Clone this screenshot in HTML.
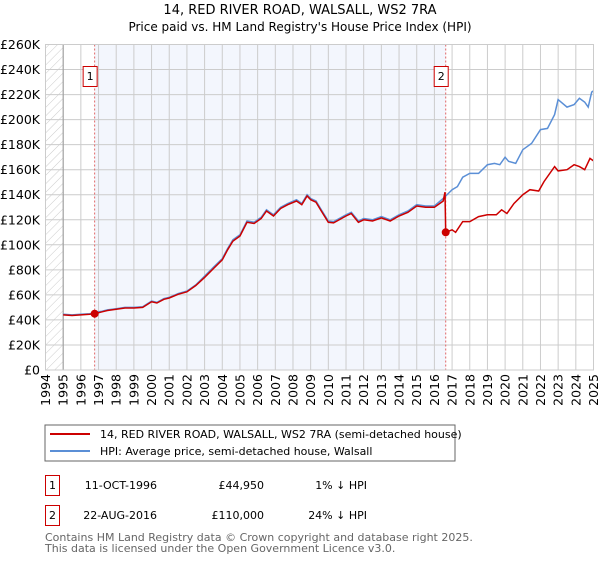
<!DOCTYPE html>
<html><head><meta charset="utf-8"><style>
body{margin:0;background:#fff;width:600px;height:560px;overflow:hidden;font-family:"DejaVu Sans","Liberation Sans",sans-serif}
svg text{font-family:"DejaVu Sans","Liberation Sans",sans-serif}
</style></head><body>
<svg id="c" width="600" height="560" xmlns="http://www.w3.org/2000/svg">
<defs><pattern id="hatch" width="6" height="6" patternUnits="userSpaceOnUse" patternTransform="rotate(45)"><line x1="0" y1="0" x2="0" y2="6" stroke="#ccc" stroke-width="1"/></pattern></defs>
<text x="300" y="14" text-anchor="middle" font-size="13">14, RED RIVER ROAD, WALSALL, WS2 7RA</text>
<text x="300" y="31" text-anchor="middle" font-size="12">Price paid vs. HM Land Registry's House Price Index (HPI)</text>
<g id="plot"></g>
<rect x="45" y="425" width="410" height="36" fill="#fff" stroke="#666"/>
<line x1="50" y1="434" x2="90" y2="434" stroke="#cc0000" stroke-width="2"/>
<text x="100" y="438" font-size="11">14, RED RIVER ROAD, WALSALL, WS2 7RA (semi-detached house)</text>
<line x1="50" y1="451" x2="90" y2="451" stroke="#5b8fd6" stroke-width="2"/>
<text x="100" y="455" font-size="11">HPI: Average price, semi-detached house, Walsall</text>
<rect x="45.5" y="475.5" width="14" height="20" fill="none" stroke="#cc0000"/>
<text x="52.5" y="489" font-size="11" text-anchor="middle">1</text>
<text x="157" y="489" font-size="11" text-anchor="end">11-OCT-1996</text>
<text x="264" y="489" font-size="11" text-anchor="end">£44,950</text>
<text x="367" y="489" font-size="11" text-anchor="end">1% ↓ HPI</text>
<rect x="45.5" y="505.5" width="14" height="20" fill="none" stroke="#cc0000"/>
<text x="52.5" y="519" font-size="11" text-anchor="middle">2</text>
<text x="157" y="519" font-size="11" text-anchor="end">22-AUG-2016</text>
<text x="264" y="519" font-size="11" text-anchor="end">£110,000</text>
<text x="367" y="519" font-size="11" text-anchor="end">24% ↓ HPI</text>
<text x="45" y="541" font-size="11" fill="#666">Contains HM Land Registry data © Crown copyright and database right 2025.</text>
<text x="45" y="552" font-size="11" fill="#666">This data is licensed under the Open Government Licence v3.0.</text>
</svg>
<script>
const hpiYears=[1995,1995.5,1996,1996.5,1996.8,1997.2,1997.5,1998,1998.5,1999,1999.5,2000,2000.3,2000.7,2001,2001.5,2002,2002.5,2003,2003.5,2004,2004.3,2004.6,2005,2005.4,2005.8,2006.2,2006.5,2006.9,2007.3,2007.7,2008.2,2008.5,2008.8,2009,2009.3,2009.6,2010,2010.3,2011,2011.3,2011.7,2012,2012.5,2013,2013.5,2014,2014.5,2015,2015.5,2016,2016.5,2017,2017.3,2017.6,2018,2018.5,2019,2019.4,2019.7,2020,2020.2,2020.6,2021,2021.5,2022,2022.4,2022.8,2023,2023.5,2023.9,2024.2,2024.5,2024.7,2024.9,2025];
const hpiValues=[44.5,44,44.5,45,46,47,48,49,50,50,50.5,55,54,57,58,61,63,68,75,82,89,97,104,108,119,118,122,128,124,130,133,136,133,140,137,135,128,119,118.5,124,126,119,121,120,122.5,120,124,127,132,131,131,137,144,146.5,154,157,157,164,165,164,170,166.6,165,176,181,192,193,204,216,210,212,217,214,210,222,223,220];
const propYears=[1995,1995.5,1996,1996.5,1996.78,1997.2,1997.5,1998,1998.5,1999,1999.5,2000,2000.3,2000.7,2001,2001.5,2002,2002.5,2003,2003.5,2004,2004.3,2004.6,2005,2005.4,2005.8,2006.2,2006.5,2006.9,2007.3,2007.7,2008.2,2008.5,2008.8,2009,2009.3,2009.6,2010,2010.3,2011,2011.3,2011.7,2012,2012.5,2013,2013.5,2014,2014.5,2015,2015.5,2016,2016.5,2016.6,2016.64,2017,2017.2,2017.6,2018,2018.5,2019,2019.5,2019.8,2020.1,2020.5,2021,2021.4,2021.9,2022.2,2022.8,2023,2023.5,2023.9,2024.2,2024.5,2024.8,2025];
const propValues=[44,43.5,44,44.5,44.95,46.5,47.5,48.5,49.5,49.5,50,54.5,53.5,56.5,57.5,60.5,62.5,67.5,74,81,88,96,103,107,118,117,121,127,123,129,132,135,132,139,136,134,127,118,117.5,123,125,118,120,119,121.5,119,123,126,131,130,130,135,142,110,112,110,118.5,118.5,122.5,124,124,128,125,133,140,144,143,150.5,162.5,159,160,164,162.5,160,169,167];
const saleYears=[1996.78,2016.64];
const saleValues=[44.95,110];
const yTicks=[0,20,40,60,80,100,120,140,160,180,200,220,240,260];
const xTicks=[1994,1995,1996,1997,1998,1999,2000,2001,2002,2003,2004,2005,2006,2007,2008,2009,2010,2011,2012,2013,2014,2015,2016,2017,2018,2019,2020,2021,2022,2023,2024,2025];
const X0=45.5,X1=593.5,Y0=370,Y1=44.5;
const xs=y=>X0+(y-1994)/(2025-1994)*(X1-X0);
const ys=v=>Y0-v/260*(Y0-Y1);
const NS="http://www.w3.org/2000/svg";
const g=document.getElementById('plot');
function mk(t,a){const e=document.createElementNS(NS,t);for(const k in a)e.setAttribute(k,a[k]);g.appendChild(e);return e;}
let e=mk('rect',{x:X0,y:Y1,width:X1-X0,height:Y0-Y1,fill:'#fff'});


e=mk('rect',{x:xs(saleYears[0]),y:Y1,width:xs(saleYears[1])-xs(saleYears[0]),height:Y0-Y1,fill:'#f3f6fd'});


e=mk('rect',{x:X0,y:Y1,width:xs(1995)-X0,height:Y0-Y1,fill:'url(#hatch)'});


yTicks.forEach(t=>{
 e=mk('line',{x1:X0,x2:X1,y1:ys(t),y2:ys(t),stroke:'#ccc'});
 
 
 e=mk('text',{x:40,y:ys(t)+4.5,'text-anchor':'end','font-size':'12.5'});e.textContent=t?'£'+t+'K':'£0';
 
 
});
xTicks.forEach(t=>{
 e=mk('line',{x1:xs(t),x2:xs(t),y1:Y1,y2:Y0,stroke:'#ccc'});
 
 
 e=mk('text',{x:0,y:0,'text-anchor':'end','font-size':'12.5',transform:`translate(${xs(t)+4.5},374) rotate(-90)`});e.textContent=t;
 
 
});
e=mk('line',{x1:xs(1995),x2:xs(1995),y1:Y1,y2:Y0,stroke:'#999'});


e=mk('line',{x1:X1,x2:X1,y1:Y1,y2:Y0,stroke:'#999'});


saleYears.forEach((s,i)=>{
 e=mk('line',{x1:xs(s),x2:xs(s),y1:Y1,y2:Y0,stroke:'#e06666','stroke-dasharray':'2,2'});
 
 
});
const pts=(a,b)=>a.map((y,i)=>xs(y).toFixed(1)+','+ys(b[i]).toFixed(1)).join(' ');
e=mk('polyline',{points:pts(hpiYears,hpiValues),fill:'none',stroke:'#5b8fd6','stroke-width':1.5});


e=mk('polyline',{points:pts(propYears,propValues),fill:'none',stroke:'#cc0000','stroke-width':1.5});


saleYears.forEach((s,i)=>{
 e=mk('circle',{cx:xs(s),cy:ys(saleValues[i]),r:4,fill:'#cc0000'});
 
 
 e=mk('rect',{x:xs(s)-11.5,y:66.5,width:14,height:20,fill:'#fff',stroke:'#cc0000'});
 
 
 e=mk('text',{x:xs(s)-4.5,y:80,'text-anchor':'middle','font-size':'11'});e.textContent=String(i+1);
 
 
});
e=mk('rect',{x:X0,y:Y1,width:X1-X0,height:Y0-Y1,fill:'none',stroke:'#ccc'});


</script>
</body></html>
